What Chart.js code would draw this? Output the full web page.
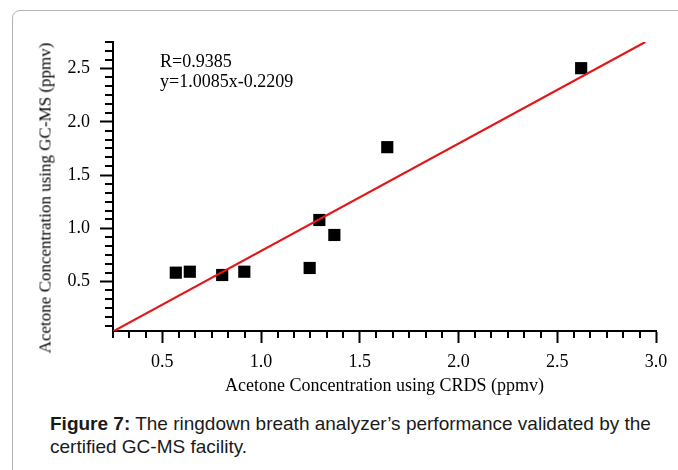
<!DOCTYPE html>
<html>
<head>
<meta charset="utf-8">
<script src="https://cdn.jsdelivr.net/npm/chart.js"></script>
<style>
  html, body { margin: 0; padding: 0; background: #fff; overflow: hidden; }
  #frame { position: absolute; left: 12px; top: 10px; width: 720px; height: 520px; border: 1px solid #b4b4b4; border-radius: 8px; }
  #chartbox { position: absolute; left: 0; top: 0; width: 678px; height: 400px; }
  .serif { font-family: 'Liberation Serif', 'Times New Roman', serif; color: #000; }
  #fitnote { position: absolute; left: 160px; top: 51px; font-size: 18px; line-height: 20px; }
  #ytitle { position: absolute; left: 45px; top: 198px; font-size: 17px; line-height: 17px; white-space: nowrap; font-weight: normal;
            transform: translate(-50%, -50%) rotate(-90deg); }
  #caption { position: absolute; left: 50px; top: 412px; width: 612px; font-family: 'Liberation Sans', Arial, sans-serif;
             font-size: 19px; line-height: 23px; color: #1a1a1a; }
</style>
</head>
<body>
<div id="frame"></div>
<div id="chartbox"><canvas id="acetona" width="678" height="400"></canvas></div>
<div id="fitnote" class="serif">R=0.9385<br>y=1.0085x-0.2209</div>
<div id="ytitle" class="serif">Acetone Concentration using GC-MS (ppmv)</div>
<div id="caption"><b>Figure 7:</b> The ringdown breath analyzer’s performance validated by the certified GC-MS facility.</div>
<script>
// CRDS vs GC-MS, acetona en aliento (ppmv)
const crds = [0.568, 0.639, 0.803, 0.915, 1.246, 1.295, 1.371, 1.639, 2.621];
const gcms = [0.583, 0.592, 0.561, 0.592, 0.627, 1.078, 0.937, 1.762, 2.504];

// recta de ajuste, extremos
const fitX = [0.25, 2.946];
const fitY = [0.031, 2.75];

// etiquetas de los ejes
const xLabels = [0.5, 1.0, 1.5, 2.0, 2.5, 3.0];
const yLabels = [0.5, 1.0, 1.5, 2.0, 2.5];

const serif = 'Liberation Serif';

function buildTicks(min, max) {
  var out = [];
  for (var k = Math.ceil(min * 12 - 1e-6); k <= Math.floor(max * 12 + 1e-6); k++) {
    out.push({ value: k / 12 });
  }
  return out;
}
function isMajor(list, v) {
  return list.some(function (m) { return Math.abs(m - v) < 1e-6; });
}

// ticks menores (mas cortos que los mayores)
const minorTicks = {
  id: 'minorTicks',
  afterDraw(chart) {
    const c = chart.ctx, xs = chart.scales.x, ys = chart.scales.y, a = chart.chartArea;
    c.save();
    c.strokeStyle = '#000';
    c.lineWidth = 2;
    xs.ticks.forEach(function (t) {
      if (isMajor(xLabels, t.value)) return;
      const px = Math.round(xs.getPixelForValue(t.value));
      c.beginPath(); c.moveTo(px, a.bottom); c.lineTo(px, a.bottom + 7); c.stroke();
    });
    ys.ticks.forEach(function (t) {
      if (isMajor(yLabels, t.value)) return;
      const py = Math.round(ys.getPixelForValue(t.value));
      c.beginPath(); c.moveTo(a.left, py); c.lineTo(a.left - 8, py); c.stroke();
    });
    c.restore();
  }
};

const ctx = document.getElementById('acetona').getContext('2d');
const myChart = new Chart(ctx, {
  type: 'scatter',
  plugins: [minorTicks],
  data: {
    datasets: [
      {
        label: 'fit',
        type: 'line',
        data: fitX.map(function (x, i) { return { x: x, y: fitY[i] }; }),
        borderColor: 'rgb(226, 24, 24)',
        borderWidth: 2.2,
        pointRadius: 0,
        fill: false,
        order: 0
      },
      {
        label: 'GC-MS',
        data: crds.map(function (x, i) { return { x: x, y: gcms[i] }; }),
        pointStyle: 'rect',
        pointRadius: 8.6,
        backgroundColor: '#000',
        borderColor: '#000',
        borderWidth: 0,
        order: 1
      }
    ]
  },
  options: {
    responsive: false,
    animation: false,
    layout: { padding: { left: 20, right: 22, top: 42, bottom: 0 } },
    plugins: {
      legend: { display: false },
      tooltip: { enabled: false }
    },
    scales: {
      x: {
        type: 'linear',
        min: 0.25,
        max: 3.0,
        afterBuildTicks: function (s) { s.ticks = buildTicks(0.25, 3.0); },
        afterFit: function (s) { s.height = 69; },
        ticks: {
          autoSkip: false,
          maxRotation: 0,
          padding: 8,
          color: '#000',
          font: { family: serif, size: 18 },
          callback: function (v) { return isMajor(xLabels, v) ? v.toFixed(1) : ''; }
        },
        grid: {
          drawOnChartArea: false,
          tickLength: 12,
          tickWidth: 2,
          tickColor: function (c) { return isMajor(xLabels, c.tick.value) ? '#000' : 'rgba(0,0,0,0)'; }
        },
        border: { color: '#000', width: 2 },
        title: {
          display: true,
          text: 'Acetone Concentration using CRDS (ppmv)',
          color: '#000',
          font: { family: serif, size: 18 },
          padding: { top: 0, bottom: 3 }
        }
      },
      y: {
        type: 'linear',
        min: 0.035,
        max: 2.75,
        afterBuildTicks: function (s) { s.ticks = buildTicks(0.035, 2.75); },
        afterFit: function (s) { s.width = 93; },
        ticks: {
          autoSkip: false,
          padding: 10,
          color: '#000',
          font: { family: serif, size: 18 },
          callback: function (v) { return isMajor(yLabels, v) ? v.toFixed(1) : ''; }
        },
        grid: {
          drawOnChartArea: false,
          tickLength: 13,
          tickWidth: 2,
          tickColor: function (c) { return isMajor(yLabels, c.tick.value) ? '#000' : 'rgba(0,0,0,0)'; }
        },
        border: { color: '#000', width: 2 }
      }
    }
  }
});
</script>
</body>
</html>
